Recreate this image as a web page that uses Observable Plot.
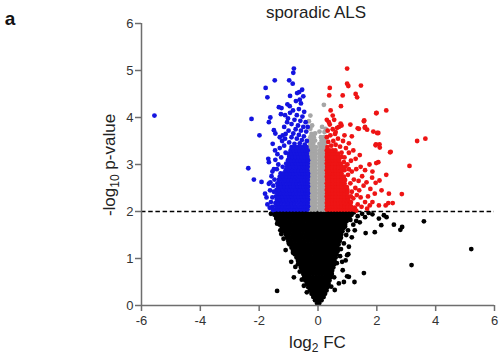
<!DOCTYPE html>
<html><head><meta charset="utf-8">
<script src="https://cdn.jsdelivr.net/npm/d3@7"></script>
<script src="https://cdn.jsdelivr.net/npm/@observablehq/plot@0.6"></script>
<style>
body{margin:0;background:#fff}
#chart g[aria-label$="tick"]{stroke:#6e6e6e;stroke-width:1.5}
#chart g[aria-label$="tick label"]{fill:#333}
</style>
</head><body><div id="chart"></div>
<script>
const xTicks = [-6,-4,-2,0,2,4,6];
const yTicks = [0,1,2,3,4,5,6];
const threshold = 2;
const groups = ["ns","mid","down","up"];
const colors = ["#000000","#a6a6a6","#1414e0","#ee1414"];

// dense rows: [ -log10 p, log2 FC values ... ]
const blackRows = [
[.04,-.03,.04],
[.11,-.1,-.01,.06,.12],
[.18,-.16,-.07,.02,.1,.19],
[.25,-.22,-.13,-.04,.05,.14,.24],
[.32,-.28,-.19,-.09,.01,.1,.2,.29],
[.39,-.33,-.23,-.14,-.04,.06,.15,.24,.32],
[.46,-.38,-.28,-.18,-.08,.02,.12,.21,.29,.36],
[.53,-.43,-.32,-.22,-.11,-.01,.09,.19,.29,.39],
[.6,-.47,-.36,-.26,-.15,-.04,.06,.16,.26,.35,.43],
[.67,-.5,-.4,-.29,-.18,-.07,.03,.13,.23,.33,.42,.47],
[.74,-.55,-.44,-.33,-.22,-.11,0,.1,.2,.3,.4,.48],
[.81,-.58,-.47,-.36,-.25,-.14,-.03,.07,.17,.27,.37,.46,.52],
[.88,-.63,-.52,-.41,-.3,-.19,-.08,.02,.12,.22,.32,.42,.51,.55],
[.95,-.68,-.57,-.46,-.35,-.24,-.13,-.03,.07,.17,.27,.37,.47,.56],
[1.02,-.73,-.62,-.51,-.4,-.29,-.18,-.07,.03,.13,.23,.33,.43,.52,.6],
[1.09,-.79,-.68,-.57,-.46,-.35,-.24,-.13,-.02,.08,.18,.28,.38,.48,.57,.63],
[1.16,-.85,-.74,-.63,-.52,-.41,-.3,-.19,-.08,.02,.12,.22,.32,.42,.52,.61,.67],
[1.23,-.9,-.79,-.68,-.57,-.46,-.35,-.24,-.13,-.03,.07,.17,.27,.37,.47,.57,.66],
[1.3,-.96,-.85,-.74,-.63,-.52,-.41,-.3,-.19,-.08,.02,.12,.22,.32,.42,.52,.61,.7],
[1.37,-1.01,-.9,-.79,-.68,-.57,-.46,-.35,-.24,-.13,-.02,.08,.18,.28,.38,.48,.58,.67,.74],
[1.44,-1.05,-.94,-.83,-.72,-.61,-.5,-.39,-.28,-.17,-.06,.04,.14,.24,.34,.44,.54,.64,.73,.78],
[1.51,-1.1,-.99,-.88,-.77,-.66,-.55,-.44,-.33,-.22,-.11,-.01,.09,.19,.29,.39,.49,.59,.69,.79],
[1.58,-1.17,-1.06,-.95,-.84,-.73,-.62,-.51,-.4,-.29,-.18,-.07,.03,.13,.23,.33,.43,.53,.63,.73,.83],
[1.65,-1.23,-1.12,-1.01,-.9,-.79,-.68,-.57,-.46,-.35,-.24,-.13,-.03,.07,.17,.27,.37,.47,.57,.67,.77,.87],
[1.72,-1.3,-1.19,-1.08,-.97,-.86,-.75,-.64,-.53,-.42,-.31,-.2,-.09,.01,.11,.21,.31,.41,.51,.61,.71,.81,.92],
[1.79,-1.36,-1.25,-1.14,-1.03,-.92,-.81,-.7,-.59,-.48,-.37,-.26,-.15,-.05,.05,.15,.25,.35,.45,.55,.65,.75,.86,.97],
[1.86,-1.42,-1.31,-1.2,-1.09,-.98,-.87,-.76,-.65,-.54,-.43,-.32,-.21,-.1,0,.1,.2,.3,.4,.5,.6,.7,.8,.9,1,1.07],
[1.93,-1.48,-1.37,-1.26,-1.15,-1.04,-.93,-.82,-.71,-.6,-.49,-.38,-.27,-.16,-.05,.05,.15,.25,.35,.45,.55,.65,.75,.85,.95,1.05,1.14],
[1.98,-1.51,-1.4,-1.29,-1.18,-1.07,-.96,-.85,-.74,-.63,-.52,-.41,-.3,-.19,-.08,.02,.12,.22,.32,.42,.52,.62,.72,.82,.92,1.02,1.12,1.22]
];
const blackPts = [
[-1.39,.31],[-.82,.6],[-.77,.82],[-.91,.93],[-1.1,1.18],[-.99,1.32],[-1.39,1.74],[-1.41,1.85],[-1.28,1.6],
[-.55,.55],[-.62,.72],[-.68,.88],[-1.17,1.42],[-1.6,1.95],[-1.25,1.52],[-.85,1.12],[-.48,.42],[-.38,.28],
[3.6,1.79],[2.86,1.67],[2.8,1.61],[2.58,1.72],[2.15,1.71],[1.93,1.56],[1.62,1.54],[2.33,1.88],[2.07,1.85],
[2.24,1.92],[5.21,1.2],[3.18,.86],[1.56,.69],[1.24,.5],[.99,.62],[.84,.75],[.94,.96],[1.03,1.09],[1.05,1.25],
[.88,1.32],[.57,.33],[.71,.47],[1.2,1.72],[1.35,1.9],[1.5,1.95],[1.15,1.45],[.96,1.5],[1.72,1.97],[1.85,1.94],
[1.1,1.82],[.82,.93],[.99,1.07],[.88,.5],[1.05,.61],[1.3,1.8],[1.6,1.88],[.78,1.2],[.64,.9],[.55,.6],[.45,.4],
[.6,1.1],[.75,1.05],[1.25,1.6],[1.42,1.77],[.92,1.68],[1.02,1.6]
];
const grayRows = [
[2.04,-.29,-.19,-.09,.05,.15,.23],
[2.11,-.28,-.18,-.08,.06,.16,.24],
[2.18,-.3,-.2,-.1,.04,.14,.23],
[2.25,-.28,-.18,-.08,.06,.15,.24],
[2.32,-.29,-.19,-.09,.05,.16,.23],
[2.39,-.3,-.2,-.1,.04,.14,.24],
[2.46,-.28,-.18,-.08,.06,.15,.23],
[2.53,-.29,-.19,-.09,.05,.16,.24],
[2.6,-.3,-.2,-.1,.04,.14,.23],
[2.67,-.28,-.18,-.08,.06,.15,.24],
[2.74,-.29,-.19,-.09,.05,.16,.23],
[2.81,-.3,-.2,-.1,.04,.14,.24],
[2.88,-.28,-.18,-.08,.06,.15,.23],
[2.95,-.29,-.19,-.09,.05,.16,.24],
[3.02,-.3,-.2,-.1,.04,.14,.23],
[3.09,-.28,-.18,-.08,.06,.15,.24],
[3.16,-.29,-.19,-.09,.05,.16,.23],
[3.23,-.3,-.2,-.1,.04,.14,.22],
[3.3,-.28,-.18,-.08,.06,.15,.24],
[3.37,-.29,-.19,-.07,.08,.18],
[3.44,-.27,-.16,.05,.16,.23],
[3.51,-.3,-.2,-.1,.12,.22],
[3.58,-.26,-.14,.1,.2]
];
const grayPts = [[.2,4.27],[-.26,4.04],[-.31,3.92],[-.2,3.83],[-.26,3.76],[.14,3.8],[.26,3.76],[.22,3.69],[-.1,3.66],[-.22,3.65],[.05,3.7]];
const blueRows = [
[2.04,-1.46,-1.35,-1.24,-1.13,-1.02,-.91,-.8,-.69,-.58,-.47,-.36],
[2.11,-1.42,-1.31,-1.2,-1.09,-.98,-.87,-.76,-.65,-.54,-.43,-.34],
[2.18,-1.45,-1.34,-1.23,-1.12,-1.01,-.9,-.79,-.68,-.57,-.46,-.35],
[2.25,-1.4,-1.29,-1.18,-1.07,-.96,-.85,-.74,-.63,-.52,-.42,-.34],
[2.32,-1.43,-1.32,-1.21,-1.1,-.99,-.88,-.77,-.66,-.55,-.45,-.35],
[2.39,-1.38,-1.27,-1.16,-1.05,-.94,-.83,-.72,-.61,-.5,-.41,-.34],
[2.46,-1.41,-1.3,-1.19,-1.08,-.97,-.86,-.75,-.64,-.53,-.43,-.35],
[2.53,-1.36,-1.25,-1.14,-1.03,-.92,-.81,-.7,-.59,-.49,-.4,-.34],
[2.6,-1.38,-1.27,-1.16,-1.05,-.94,-.83,-.72,-.61,-.51,-.42,-.35],
[2.67,-1.33,-1.22,-1.11,-1,-.89,-.78,-.67,-.56,-.46,-.35],
[2.74,-1.3,-1.19,-1.08,-.97,-.86,-.75,-.64,-.53,-.43,-.34],
[2.81,-1.27,-1.16,-1.05,-.94,-.83,-.72,-.61,-.51,-.42,-.34],
[2.88,-1.1,-.99,-.88,-.77,-.66,-.56,-.46,-.36],
[2.95,-1.05,-.94,-.83,-.72,-.62,-.52,-.43,-.35],
[3.02,-1.08,-.97,-.86,-.75,-.65,-.55,-.45,-.35],
[3.09,-1.02,-.91,-.8,-.69,-.59,-.49,-.4,-.34],
[3.16,-.98,-.87,-.76,-.66,-.56,-.46,-.36],
[3.23,-1,-.89,-.78,-.68,-.58,-.48,-.38],
[3.3,-.93,-.82,-.72,-.62,-.52,-.42,-.35],
[3.37,-.9,-.79,-.69,-.59,-.49,-.39]
];
const bluePts = [
[-.45,3.42],[-.62,3.45],[-.8,3.44],[-.98,3.47],[-.38,3.5],[-.55,3.52],[-.72,3.55],[-.9,3.58],[-1.12,3.55],
[-.48,3.6],[-.65,3.63],[-.84,3.66],[-.4,3.7],[-.58,3.72],[-.76,3.75],[-1,3.72],[-.5,3.8],[-.68,3.83],
[-.9,3.86],[-.42,3.9],[-.6,3.93],[-.8,3.95],[-1.05,3.9],[-.53,4.02],[-.72,4.05],[-.95,4.1],[-.47,4.12],
[-.65,4.18],[-.85,4.15],[-.58,4.3],[-.75,4.35],[-.5,4.45],[-1.15,3.8],[-1.2,3.62],[-.35,3.8],
[-.82,5.04],[-.84,4.95],[-1.47,4.79],[-.98,4.79],[-.86,4.72],[-1.78,4.63],[-1.72,4.43],[-.54,4.59],
[-.64,4.54],[-.71,4.52],[-.95,4.46],[-.62,4.38],[-1.24,4.2],[-1.04,4.28],[-.96,4.24],[-2.26,3.97],
[-1.62,4],[-1.67,3.9],[-1.99,3.62],[-5.56,4.04],[-2.37,2.92],[-2.18,2.68],[-1.92,2.63],[-1.67,2.59],
[-1.69,3.12],[-1.67,3.05],[-1.8,2.38],[-1.75,2.3],[-1.63,2.45],[-1.5,3.73],[-1.45,3.66],[-1.54,3.44],
[-1.46,3.3],[-1.33,4.22],[-1.26,4.07],[-1.55,2.1],[-1.6,2.2],[-1.52,2.55],[-1.58,2.75],[-1.5,2.9],
[-1.35,3],[-1.25,3.15],[-1.3,3.35],[-1.2,2.95],[-1.55,2.3],[-1.1,3.25],[-1.15,3.4],
[-1.53,2.03],[-1.64,2.08],[-1.5,2.42],[-1.62,2.62],[-1.48,2.68],[-1.55,2.85],[-1.4,2.9],[-1.72,2.15],
[-1.45,3.1],[-1.38,3.22],[-1.22,3.5],[-1.3,3.58],[-1.1,3.65],[-1.02,3.98],[-1.12,4.05]
];
const redRows = [
[2.04,.3,.4,.5,.6,.7,.8,.9,1,1.1,1.2],
[2.11,.31,.41,.51,.61,.71,.81,.91,1.01,1.12],
[2.18,.3,.4,.5,.6,.7,.8,.9,1,1.1],
[2.25,.31,.41,.51,.61,.71,.81,.92,1.03],
[2.32,.3,.4,.5,.6,.7,.8,.9,1.01,1.12],
[2.39,.31,.41,.51,.61,.71,.81,.92],
[2.46,.3,.4,.5,.6,.7,.8,.9,1],
[2.53,.31,.41,.51,.61,.71,.82,.93],
[2.6,.3,.4,.5,.6,.7,.8,.9],
[2.67,.31,.41,.51,.61,.71,.81,.92],
[2.74,.3,.4,.5,.6,.7,.8,.88],
[2.81,.31,.41,.51,.61,.71,.8],
[2.88,.3,.4,.5,.6,.7,.79,.9],
[2.95,.31,.41,.51,.61,.7,.8],
[3.02,.3,.4,.5,.6,.7,.78],
[3.09,.31,.41,.51,.61,.71],
[3.16,.3,.4,.5,.6,.7,.8],
[3.23,.31,.41,.51,.6,.68],
[3.3,.3,.4,.5,.59]
];
const redPts = [
[1.25,2.08],[1.35,2.15],[1.48,2.1],[1.6,2.2],[1.2,2.28],[1.32,2.35],[1.45,2.3],[1.7,2.32],[1.15,2.42],
[1.27,2.5],[1.4,2.45],[1.55,2.55],[1.1,2.6],[1.22,2.68],[1.38,2.65],[1.5,2.75],[1.65,2.62],[1.02,2.78],
[1.15,2.85],[1.3,2.9],[1.45,2.95],[1.6,2.88],[1,3],[1.12,3.08],[1.28,3.12],[1.42,3.2],[.9,3.15],[1.05,3.25],
[1.2,3.3],[1.78,2.48],[1.85,2.2],[1.3,2.02],[1.12,2.2],[1,2.4],[.98,2.52],[1.05,2.9],[.92,2.95],[.88,3.05],
[.8,3.25],[.95,3.35],
[.32,3.37],[.45,3.4],[.6,3.42],[.75,3.38],[.35,3.48],[.52,3.5],[.68,3.55],[.85,3.5],[.3,3.58],[.42,3.62],
[.58,3.65],[.33,3.72],[.5,3.75],[.65,3.78],[.4,3.85],[.9,3.62],[1.05,3.45],[1.15,3.6],[.3,3.95],[.55,3.95],[1.1,3.85],
[.99,5.04],[.99,4.72],[1.03,4.67],[1.46,4.68],[.4,4.63],[.38,4.47],[.84,4.47],[1.28,4.5],[1.33,4.43],[.78,4.24],
[.43,4.15],[.5,4.04],[1.99,4.1],[2.32,4.15],[1.57,3.94],[1.6,3.8],[1.67,3.74],[1.35,3.77],[1.88,3.7],[2.05,3.67],
[.8,3.83],[.77,3.87],[.71,3.8],[.6,3.69],[.37,3.9],[1.97,3.43],[2.1,3.36],[2.45,3.26],[3.37,3.5],[3.65,3.55],
[3.11,2.97],[2.32,2.78],[2.85,2.37],[2.09,2.66],[1.96,2.61],[1.84,2.72],[2.16,2.45],[1.93,2.38],[2.41,2.38],
[2.54,2.18],[2.3,2.13],[2.39,2.18],[2.07,2.13],[1.76,2.13],[1.67,2.06],[2.05,3.05],[1.98,3.03],[2.09,3.43],
[1.96,3.41],[2.01,3.67],[1.59,3.78],[1.39,3.76],[1.56,3.92],[1.98,4.09],[2.47,3.27],[1.75,3.0],[1.85,2.85]
];

const fromRows = (rows, g) => rows.flatMap(([y, ...xs]) => xs.map(x => ({x, y, g})));
const fromPts = (pts, g) => pts.map(([x, y]) => ({x, y, g}));
const points = [
  ...fromRows(blackRows, "ns"), ...fromPts(blackPts, "ns"),
  ...fromRows(grayRows, "mid"), ...fromPts(grayPts, "mid"),
  ...fromRows(blueRows, "down"), ...fromPts(bluePts, "down"),
  ...fromRows(redRows, "up"), ...fromPts(redPts, "up")
];

const chart = Plot.plot({
  width: 499, height: 360,
  marginLeft: 141, marginRight: 5, marginTop: 23, marginBottom: 55,
  style: {fontFamily: "'Liberation Sans', Arial, sans-serif", fontSize: "13px", color: "#333", background: "#fff"},
  x: {domain: [-6, 6]},
  y: {domain: [0, 6]},
  color: {domain: groups, range: colors},
  marks: [
    Plot.ruleY([threshold], {stroke: "#000", strokeWidth: 1.5, strokeDasharray: "4.5,2.7"}),
    Plot.dot(points, {x: "x", y: "y", fill: "g", r: 2.4}),
    Plot.ruleX([-6], {stroke: "#6e6e6e", strokeWidth: 1.5}),
    Plot.ruleY([0], {stroke: "#6e6e6e", strokeWidth: 1.5}),
    Plot.axisX({ticks: xTicks, tickFormat: d => String(d), tickSize: 6, tickPadding: 4, label: null}),
    Plot.axisY({ticks: yTicks, tickFormat: d => String(d), tickSize: 6, tickPadding: 2, label: null})
  ]
});
document.getElementById("chart").append(chart);

const svg = d3.select(chart);
const ff = "'Liberation Sans', Arial, sans-serif";
svg.append("text").attr("x", 10).attr("y", 25).attr("font-family", ff).attr("font-weight", "bold")
  .attr("font-size", 19).attr("fill", "#111").text("a");
svg.append("text").attr("x", 316).attr("y", 18).attr("text-anchor", "middle").attr("font-family", ff)
  .attr("font-size", 17).attr("fill", "#222").text("sporadic ALS");
const xl = svg.append("text").attr("x", 317.5).attr("y", 348).attr("text-anchor", "middle")
  .attr("font-family", ff).attr("font-size", 17).attr("fill", "#222");
xl.append("tspan").text("log");
xl.append("tspan").attr("font-size", 12).attr("dy", 4).text("2");
xl.append("tspan").attr("dy", -4).text(" FC");
const yl = svg.append("text").attr("transform", "translate(115,165) rotate(-90)").attr("text-anchor", "middle")
  .attr("font-family", ff).attr("font-size", 17).attr("fill", "#222");
yl.append("tspan").text("-log");
yl.append("tspan").attr("font-size", 12).attr("dy", 4).text("10");
yl.append("tspan").attr("dy", -4).text(" p-value");
</script>
</body></html>
